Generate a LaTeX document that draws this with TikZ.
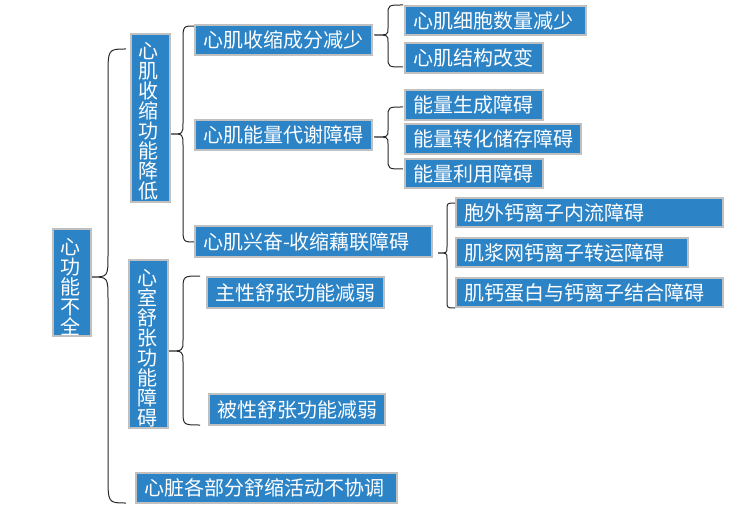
\documentclass[tikz,border=0pt]{standalone}
\usepackage{fontspec}
\newfontfamily\cjk{Noto Sans CJK SC}
\definecolor{boxblue}{RGB}{44,132,199}
\definecolor{boxgray}{RGB}{192,192,192}
\definecolor{bracecol}{RGB}{40,40,40}
\newcommand\mybrace[8]{%
  \draw[bracestyle] (#4,#5) .. controls (#3,#5) .. (#3,{#5+#7}) -- (#3,{#2-#8})
    .. controls (#3,#2) .. (#1,#2) .. controls (#3,#2) .. (#3,{#2+#8})
    -- (#3,{#6-#7}) .. controls (#3,#6) .. (#4,#6);}
\begin{document}
\begin{tikzpicture}[x=1bp,y=-1bp,
  bracestyle/.style={draw=bracecol,line width=1bp},
  boxbase/.style={draw=boxgray,line width=2bp,fill=boxblue,anchor=north west,inner sep=0pt},
  hb/.style={boxbase,text=white,inner xsep=8bp,align=left,
    font=\fontsize{20bp}{22bp}\cjk},
  vtxt/.style={text=white,inner sep=0pt,align=center,text width=20bp,
    font=\fontsize{20bp}{20bp}\cjk}]
\useasboundingbox (0,0) rectangle (746,511);
% braces
\mybrace{91}{277}{108}{126}{49}{503}{28}{22}
\mybrace{171}{134}{183}{195}{26}{242}{15}{11}
\mybrace{168}{351}{183}{200}{276}{425}{15}{11}
\mybrace{374}{35}{388}{403}{5}{67}{10}{7}
\mybrace{374}{137}{388}{403}{107}{169}{10}{7}
\mybrace{438}{253}{447}{455}{203}{308}{7}{6}
% vertical boxes
\node[boxbase,minimum width=38bp,minimum height=107bp] (root) at (52,228) {};
\node[vtxt] at ([xshift=-2bp,yshift=-4bp]root.center) {心\\功\\能\\不\\全};
\node[boxbase,minimum width=39bp,minimum height=168bp] (la) at (130,33) {};
\node[vtxt] at ([xshift=-2bp,yshift=-3bp]la.center) {心\\肌\\收\\缩\\功\\能\\降\\低};
\node[boxbase,minimum width=39bp,minimum height=168bp] (lb) at (128,259) {};
\node[vtxt] at ([xshift=-1.5bp,yshift=-4bp]lb.center) {心\\室\\舒\\张\\功\\能\\障\\碍};
% level 1 horizontal
\node[hb,minimum width=261bp,minimum height=30bp,text width=245bp] (lc) at (135,472) {心脏各部分舒缩活动不协调};
% level 2
\node[hb,minimum width=177bp,minimum height=30bp,text width=161bp] (m1) at (194,24) {心肌收缩成分减少};
\node[hb,minimum width=177bp,minimum height=30bp,text width=161bp] (m2) at (194,119) {心肌能量代谢障碍};
\node[hb,minimum width=237bp,minimum height=31bp,text width=221bp] (m3) at (194,225) {心肌兴奋-收缩藕联障碍};
\node[hb,minimum width=177bp,minimum height=31bp,text width=161bp] (m4) at (206,276) {主性舒张功能减弱};
\node[hb,minimum width=176bp,minimum height=31bp,text width=160bp] (m5) at (208,393) {被性舒张功能减弱};
% level 3
\node[hb,minimum width=181bp,minimum height=29bp,text width=165bp] (s1) at (404,5) {心肌细胞数量减少};
\node[hb,minimum width=138bp,minimum height=30bp,text width=122bp] (s2) at (404,42) {心肌结构改变};
\node[hb,minimum width=138bp,minimum height=30bp,text width=122bp] (s3) at (404,89) {能量生成障碍};
\node[hb,minimum width=176bp,minimum height=30bp,text width=160bp] (s4) at (404,123) {能量转化储存障碍};
\node[hb,minimum width=138bp,minimum height=29bp,text width=122bp] (s5) at (404,158) {能量利用障碍};
\node[hb,minimum width=267bp,minimum height=29bp,text width=251bp] (s6) at (455,197) {胞外钙离子内流障碍};
\node[hb,minimum width=232bp,minimum height=29bp,text width=216bp] (s7) at (455,237) {肌浆网钙离子转运障碍};
\node[hb,minimum width=267bp,minimum height=29bp,text width=251bp] (s8) at (455,277) {肌钙蛋白与钙离子结合障碍};
\end{tikzpicture}
\end{document}
